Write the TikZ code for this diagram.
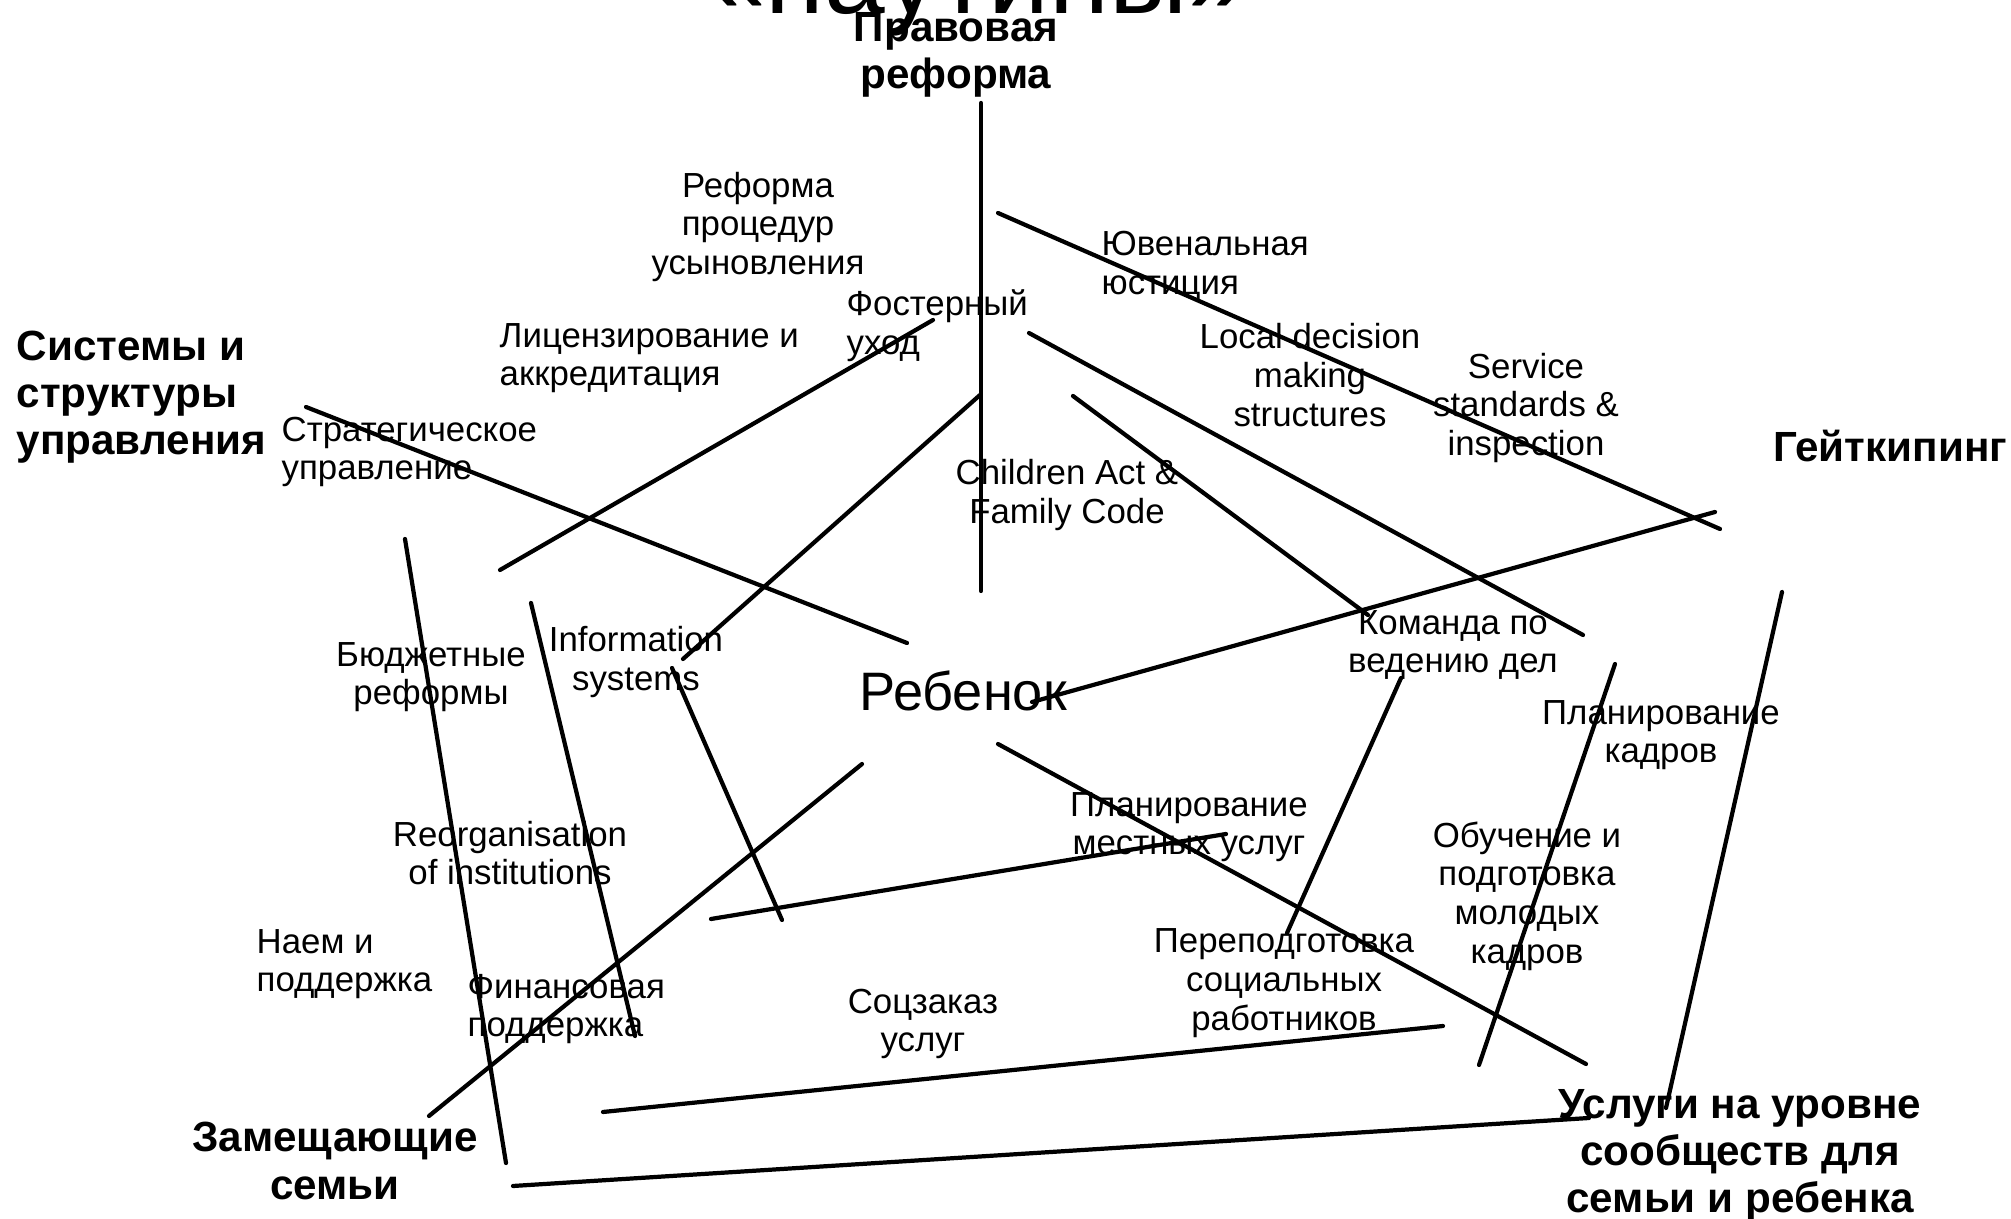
\documentclass[tikz,border=0pt]{standalone}
\usepackage{fontspec}
\setmainfont{Liberation Sans}

\begin{document}
\begin{tikzpicture}[
    x=0.01cm, y=-0.01cm,
    web/.style={draw=black, line width=1.2pt, line cap=round},
    hub/.style={inner sep=0pt, align=center,
      font=\fontsize{12}{13.4}\selectfont\bfseries},
    item/.style={inner sep=0pt, align=center,
      font=\fontsize{9.9}{11}\selectfont},
    core/.style={inner sep=0pt, anchor=base,
      font=\fontsize{15.4}{18}\selectfont},
  ]
  \clip (0,0) rectangle (2011,1219);

  %% --- title (cut by the frame) ---
  \node[inner sep=0pt, anchor=base, font=\fontsize{31}{36}\selectfont]
    (title) at (977,14) {«паутины»};

  %% --- line ends ---
  \coordinate (legal-a)  at (981,103);  \coordinate (legal-b)  at (981,591);
  \coordinate (juv-a)    at (998,213);  \coordinate (juv-b)    at (1720,529);
  \coordinate (fost-a)   at (933,320);  \coordinate (fost-b)   at (500,570);
  \coordinate (strat-a)  at (306,407);  \coordinate (strat-b)  at (907,643);
  \coordinate (act-a)    at (980,395);  \coordinate (act-b)    at (683,659);
  \coordinate (gk-a)     at (1029,333); \coordinate (gk-b)     at (1583,635);
  \coordinate (loc-a)    at (1073,396); \coordinate (loc-b)    at (1368,615);
  \coordinate (gate-a)   at (1032,702); \coordinate (gate-b)   at (1715,512);
  \coordinate (comm-a)   at (1782,592); \coordinate (comm-b)   at (1666,1108);
  \coordinate (staff-a)  at (1615,664); \coordinate (staff-b)  at (1479,1065);
  \coordinate (case-a)   at (1401,678); \coordinate (case-b)   at (1287,933);
  \coordinate (child-a)  at (998,744);  \coordinate (child-b)  at (1586,1064);
  \coordinate (plan-a)   at (711,919);  \coordinate (plan-b)   at (1226,834);
  \coordinate (info-a)   at (672,668);  \coordinate (info-b)   at (782,920);
  \coordinate (budg-a)   at (405,539);  \coordinate (budg-b)   at (506,1163);
  \coordinate (fin-a)    at (531,603);  \coordinate (fin-b)    at (635,1036);
  \coordinate (subst-a)  at (429,1116); \coordinate (subst-b)  at (862,764);
  \coordinate (order-a)  at (603,1112); \coordinate (order-b)  at (1443,1026);
  \coordinate (base-a)   at (513,1186); \coordinate (base-b)   at (1589,1118);

  %% --- web ---
  \foreach \n in {legal, juv, fost, strat, act, gk, loc, gate, comm, staff,
                  case, child, plan, info, budg, fin, subst, order, base}
    \draw[web] (\n-a) -- (\n-b);

  %% --- sectors ---
  \node[hub] (legal) at (956,55) {Правовая\\реформа};
  \node[hub, align=left, anchor=west] (systems) at (16,397)
    {Системы и\\структуры\\управления};
  \node[hub, anchor=base west] (gate) at (1773,462) {Гейткипинг};
  \node[hub] (subst) at (335,1161) {Замещающие\\семьи};
  \node[hub] (community) at (1740,1155)
    {Услуги на уровне\\сообществ для\\семьи и ребенка};
  \node[core] (child) at (963,711) {Ребенок};

  %% --- strands ---
  \node[item] (adopt) at (758,227) {Реформа\\процедур\\усыновления};
  \node[item, align=left, anchor=west] (foster) at (846,326) {Фостерный\\уход};
  \node[item, align=left, anchor=west] (licence) at (499,358)
    {Лицензирование и\\аккредитация};
  \node[item, align=left, anchor=west] (strategy) at (281,452)
    {Стратегическое\\управление};
  \node[item, align=left, anchor=west] (juvenile) at (1101,266)
    {Ювенальная\\юстиция};
  \node[item] (local) at (1310,375) {Local decision\\making\\structures};
  \node[item] (standards) at (1526,408) {Service\\standards \&\\inspection};
  \node[item] (act) at (1067,495) {Children Act \&\\Family Code};
  \node[item] (budget) at (431,677) {Бюджетные\\реформы};
  \node[item] (info) at (636,662) {Information\\systems};
  \node[item] (reorg) at (510,853) {Reorganisation\\of institutions};
  \node[item, align=left, anchor=west] (hiring) at (256,964) {Наем и\\поддержка};
  \node[item, align=left, anchor=west] (finance) at (467,1009)
    {Финансовая\\поддержка};
  \node[item] (order) at (923,1024) {Соцзаказ\\услуг};
  \node[item] (case) at (1453,645) {Команда по\\ведению дел};
  \node[item] (staffplan) at (1661,735) {Планирование\\кадров};
  \node[item] (localplan) at (1189,827) {Планирование\\местных услуг};
  \node[item] (training) at (1527,896) {Обучение и\\подготовка\\молодых\\кадров};
  \node[item] (retrain) at (1284,983) {Переподготовка\\социальных\\работников};
\end{tikzpicture}
\end{document}
